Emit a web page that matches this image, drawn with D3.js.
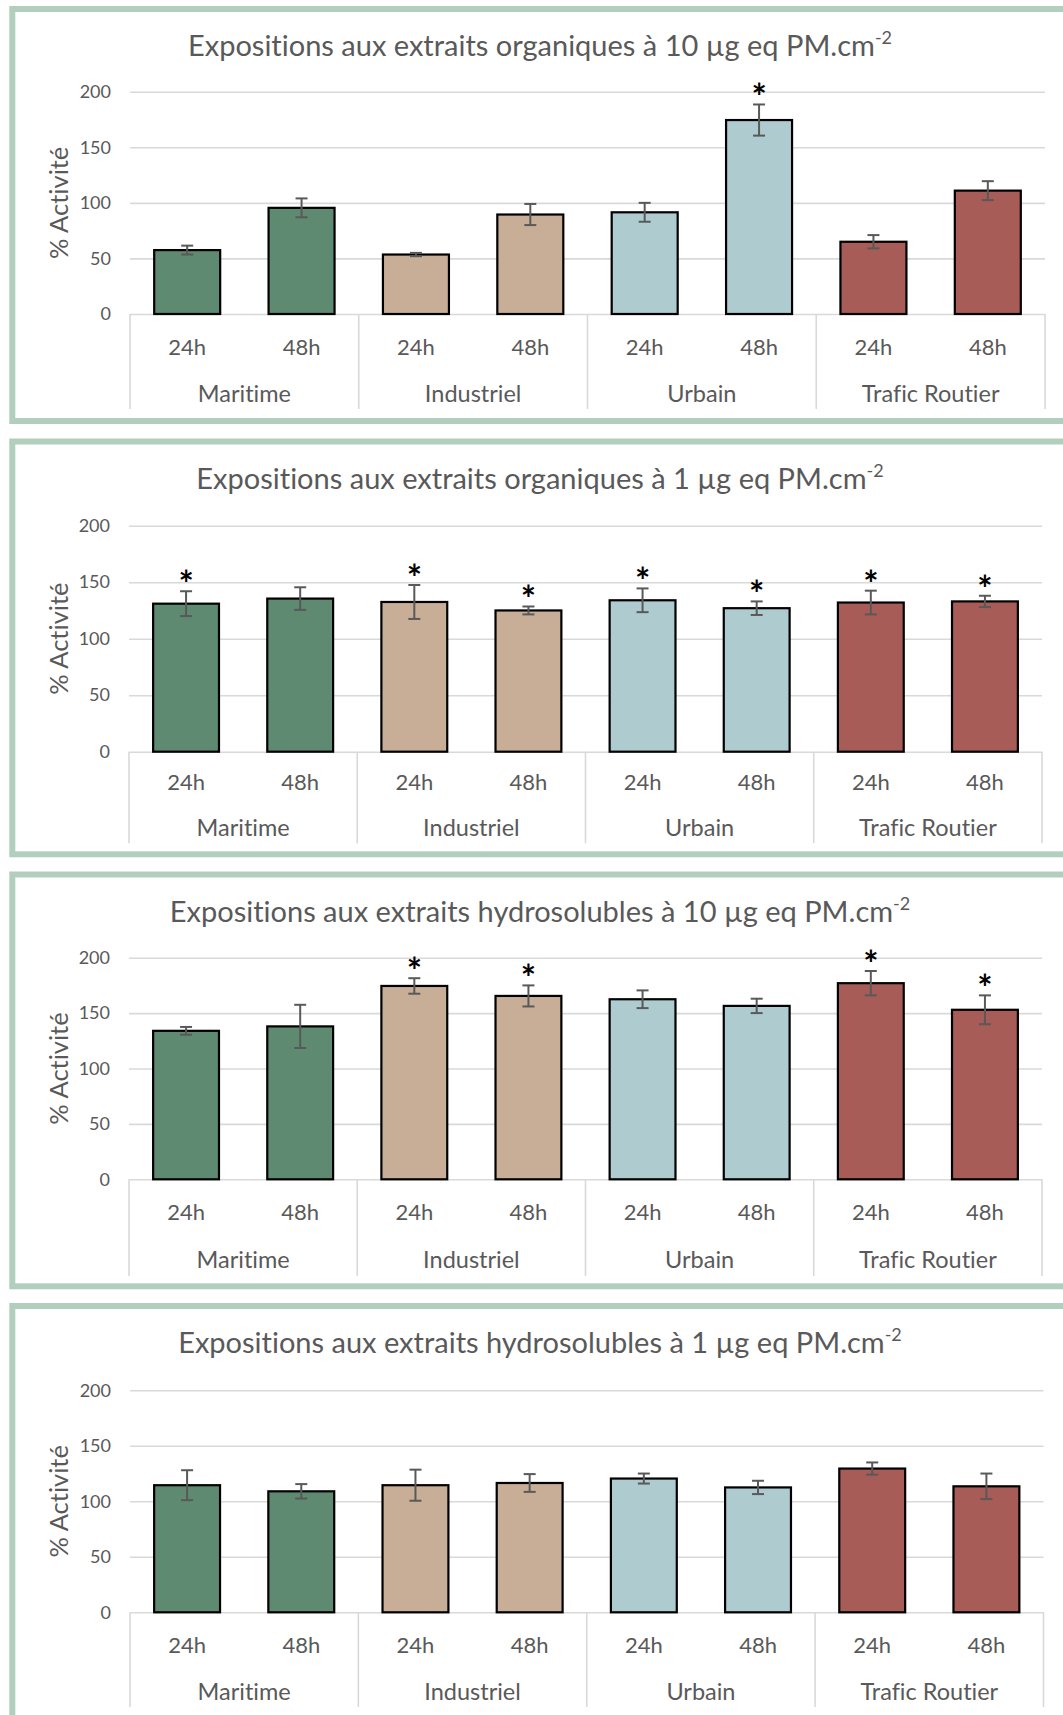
<!DOCTYPE html>
<html>
<head>
<meta charset="utf-8">
<script src="https://cdn.jsdelivr.net/npm/d3@7"></script>
<style>
  html, body { margin: 0; padding: 0; background: #ffffff; }
  svg { display: block; }
  text { font-family: Lato, "Open Sans", sans-serif; font-variant-ligatures: none; }
</style>
</head>
<body>
<svg id="chart" width="1063" height="1715"></svg>
<script>
// ---------- DATA ----------
const categories = ["Maritime", "Industriel", "Urbain", "Trafic Routier"];
const times = ["24h", "48h"];
const yTicks = [0, 50, 100, 150, 200];
const yAxisLabel = "% Activité";

const titles = [
  "Expositions aux extraits organiques à 10 µg eq PM.cm",
  "Expositions aux extraits organiques à 1 µg eq PM.cm",
  "Expositions aux extraits hydrosolubles à 10 µg eq PM.cm",
  "Expositions aux extraits hydrosolubles à 1 µg eq PM.cm"
];
const titleSuperscript = "-2";

// values ordered: Maritime 24h, 48h, Industriel 24h, 48h, Urbain 24h, 48h, Trafic 24h, 48h
const org10Values = [57.5, 95.5, 53.5, 89.5, 91.5, 174.5, 65, 111];
const org10Errors = [4, 8.5, 1.5, 9.5, 8.5, 14, 6, 8.5];
const org10Stars  = [0, 0, 0, 0, 0, 1, 0, 0];

const org1Values = [131, 135.5, 132.5, 125, 134, 127, 132, 133];
const org1Errors = [11, 10, 15, 3.5, 10.5, 6, 10.5, 5];
const org1Stars  = [1, 0, 1, 1, 1, 1, 1, 1];

const hydro10Values = [134, 138, 174.5, 165.5, 162.5, 156.5, 177, 153];
const hydro10Errors = [3.5, 19.5, 7, 9.5, 8, 6.5, 11, 13];
const hydro10Stars  = [0, 0, 1, 1, 0, 0, 1, 1];

const hydro1Values = [114.5, 109, 114.5, 116.5, 120.5, 112.5, 129.5, 113.5];
const hydro1Errors = [13.5, 6.5, 14, 8, 4.5, 6, 5.5, 11.5];
const hydro1Stars  = [0, 0, 0, 0, 0, 0, 0, 0];

const seriesValues = [org10Values, org1Values, hydro10Values, hydro1Values];
const seriesErrors = [org10Errors, org1Errors, hydro10Errors, hydro1Errors];
const seriesStars  = [org10Stars, org1Stars, hydro10Stars, hydro1Stars];

// ---------- STYLE / LAYOUT ----------
const categoryColors = ["#5E8A71", "#C9AE97", "#AECBD0", "#A75C57"];
const layout = [
  { top: 6,     bottom: 424,    y200: 91.7,   y0: 314,    x0: 130, x1: 1045,   tl: 32.7, cl: 79.3, sep: 409 },
  { top: 438.5, bottom: 857.3,  y200: 525.7,  y0: 751.7,  x0: 129, x1: 1042,   tl: 30.6, cl: 76,   sep: 843.3 },
  { top: 871.5, bottom: 1289.3, y200: 957.7,  y0: 1179.3, x0: 129, x1: 1042,   tl: 33,   cl: 80,   sep: 1276 },
  { top: 1303,  bottom: 1730,   y200: 1390.3, y0: 1612.3, x0: 130, x1: 1043.5, tl: 32.3, cl: 79.4, sep: 1707 }
];
const textColor = "#595959";
const gridColor = "#D9D9D9";
const borderColor = "#B2CFBE";

const svg = d3.select("#chart");

layout.forEach((L, p) => {
  const g = svg.append("g");

  // panel frame
  g.append("rect")
    .attr("x", 12.3).attr("y", L.top + 3)
    .attr("width", 1120).attr("height", L.bottom - L.top - 6)
    .attr("fill", "#ffffff")
    .attr("stroke", borderColor).attr("stroke-width", 6);

  const y = d3.scaleLinear().domain([0, 200]).range([L.y0, L.y200]);
  const xCat = d3.scaleBand().domain(categories).range([L.x0, L.x1]).padding(0);
  const xTime = d3.scaleBand().domain(times).range([0, xCat.bandwidth()])
    .paddingInner(0.423).paddingOuter(0.2115);

  // gridlines + y tick labels through d3 axis
  const yAxis = d3.axisLeft(y).tickValues(yTicks).tickSize(-(L.x1 - L.x0)).tickPadding(19);
  const ag = g.append("g").attr("transform", `translate(${L.x0},0)`).call(yAxis);
  ag.select(".domain").remove();
  ag.selectAll(".tick line").attr("stroke", gridColor).attr("stroke-width", 1.6);
  ag.selectAll(".tick text")
    .attr("fill", textColor)
    .style("font-family", "Lato, sans-serif")
    .style("font-size", "18px");

  // category separators
  const bounds = categories.map(c => xCat(c)).concat([L.x1]);
  g.selectAll("line.sep").data(bounds).enter().append("line")
    .attr("x1", d => d).attr("x2", d => d)
    .attr("y1", L.y0).attr("y2", L.sep)
    .attr("stroke", gridColor).attr("stroke-width", 1.6);

  // build data rows
  const rows = [];
  categories.forEach((c, ci) => {
    times.forEach((t, ti) => {
      const i = ci * times.length + ti;
      rows.push({ cat: c, time: t, ci,
        value: seriesValues[p][i], err: seriesErrors[p][i], star: seriesStars[p][i] });
    });
  });

  const cx = d => xCat(d.cat) + xTime(d.time) + xTime.bandwidth() / 2;

  // bars
  g.selectAll("rect.bar").data(rows).enter().append("rect")
    .attr("class", "bar")
    .attr("x", d => xCat(d.cat) + xTime(d.time))
    .attr("width", xTime.bandwidth())
    .attr("y", d => y(d.value))
    .attr("height", d => y(0) - y(d.value))
    .attr("fill", d => categoryColors[d.ci])
    .attr("stroke", "#000000").attr("stroke-width", 2.2);

  // error bars
  const eg = g.append("g").attr("stroke", textColor).attr("stroke-width", 2);
  eg.selectAll("line.v").data(rows).enter().append("line")
    .attr("x1", cx).attr("x2", cx)
    .attr("y1", d => y(d.value + d.err)).attr("y2", d => y(d.value - d.err));
  eg.selectAll("line.t").data(rows).enter().append("line")
    .attr("x1", d => cx(d) - 6).attr("x2", d => cx(d) + 6)
    .attr("y1", d => y(d.value + d.err)).attr("y2", d => y(d.value + d.err));
  eg.selectAll("line.b").data(rows).enter().append("line")
    .attr("x1", d => cx(d) - 6).attr("x2", d => cx(d) + 6)
    .attr("y1", d => y(d.value - d.err)).attr("y2", d => y(d.value - d.err));

  // significance stars
  g.selectAll("text.star").data(rows.filter(d => d.star)).enter().append("text")
    .attr("x", cx)
    .attr("y", d => y(d.value + d.err) + 6)
    .attr("text-anchor", "middle")
    .attr("fill", "#000000")
    .style("font-size", "36px")
    .style("font-weight", "700")
    .text("*");

  // time labels
  g.selectAll("text.time").data(rows).enter().append("text")
    .attr("x", cx)
    .attr("y", L.y0 + L.tl)
    .attr("dy", "0.36em")
    .attr("text-anchor", "middle")
    .attr("fill", textColor)
    .style("font-size", "22px")
    .text(d => d.time);

  // category labels
  g.selectAll("text.cat").data(categories).enter().append("text")
    .attr("x", d => xCat(d) + xCat.bandwidth() / 2)
    .attr("y", L.y0 + L.cl)
    .attr("dy", "0.36em")
    .attr("text-anchor", "middle")
    .attr("fill", textColor)
    .style("font-size", "23.5px")
    .text(d => d);

  // y axis title
  const yMid = (L.y0 + L.y200) / 2;
  g.append("text")
    .attr("transform", `translate(68,${yMid}) rotate(-90)`)
    .attr("text-anchor", "middle")
    .attr("fill", textColor)
    .style("font-size", "25.5px")
    .text(yAxisLabel);

  // title
  const tt = g.append("text")
    .attr("x", 540)
    .attr("y", L.top + 50)
    .attr("text-anchor", "middle")
    .attr("fill", textColor)
    .style("font-size", "29px");
  tt.append("tspan").text(titles[p]);
  tt.append("tspan").attr("dy", -12).style("font-size", "18px").text(titleSuperscript);
});
</script>
</body>
</html>
